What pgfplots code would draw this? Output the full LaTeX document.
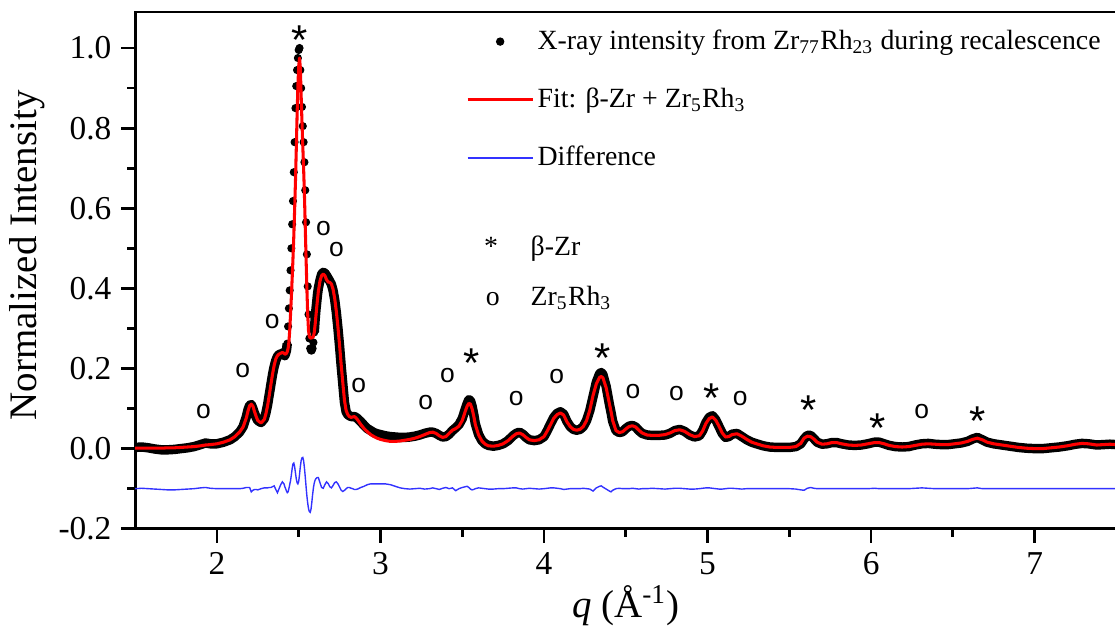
\documentclass[border=0pt]{standalone}
\usepackage{fontspec}
\setmainfont{Liberation Serif}
\setsansfont{Liberation Sans}
\usepackage{pgfplots}
\usepackage{pgfplotstable}
\pgfplotsset{compat=1.18}
\definecolor{diffblue}{RGB}{50,50,255}
\pgfplotsset{
  lineleg/.style={legend image code/.code={\draw[##1] (0pt,0pt) -- (23.4pt,0pt);}},
  dotleg/.style={legend image code/.code={\fill[##1] (11.7pt,0pt) circle[radius=1.3pt];}},
}

% q, measured intensity, fit, difference (offset by -0.1)
\pgfplotstableread{
q I fit diff
1.50 0.003 0.001 -0.100
1.54 0.004 0.001 -0.099
1.58 0.002 0.001 -0.100
1.62 -0.001 0.001 -0.101
1.66 -0.003 0.001 -0.102
1.70 -0.003 0.002 -0.103
1.74 -0.002 0.002 -0.103
1.78 0.000 0.003 -0.102
1.82 0.002 0.004 -0.101
1.86 0.005 0.005 -0.100
1.90 0.010 0.007 -0.098
1.93 0.014 0.009 -0.097
1.96 0.012 0.010 -0.099
2.00 0.012 0.012 -0.100
2.04 0.016 0.016 -0.100
2.08 0.022 0.022 -0.100
2.11 0.030 0.030 -0.100
2.14 0.042 0.042 -0.100
2.16 0.055 0.054 -0.099
2.18 0.080 0.077 -0.097
2.19 0.097 0.094 -0.097
2.20 0.108 0.107 -0.097
2.21 0.110 0.111 -0.108
2.22 0.100 0.106 -0.104
2.23 0.088 0.092 -0.102
2.24 0.078 0.080 -0.102
2.25 0.070 0.070 -0.103
2.27 0.065 0.064 -0.100
2.29 0.075 0.073 -0.098
2.300 0.090 0.088 -0.098
2.310 0.110 0.108 -0.098
2.320 0.135 0.133 -0.097
2.330 0.160 0.160 -0.097
2.340 0.185 0.186 -0.095
2.350 0.205 0.208 -0.093
2.360 0.220 0.224 -0.102
2.370 0.230 0.232 -0.110
2.380 0.235 0.236 -0.100
2.390 0.236 0.238 -0.090
2.400 0.238 0.240 -0.083
2.410 0.240 0.238 -0.088
2.415 0.232 0.236 -0.095
2.420 0.238 0.236 -0.100
2.425 0.245 0.238 -0.106
2.430 0.262 0.242 -0.110
2.435 0.305 0.250 -0.108
2.440 0.350 0.265 -0.100
2.445 0.395 0.295 -0.090
2.450 0.445 0.335 -0.080
2.455 0.500 0.378 -0.066
2.460 0.560 0.425 -0.050
2.465 0.618 0.475 -0.038
2.470 0.690 0.530 -0.036
2.475 0.765 0.595 -0.045
2.480 0.850 0.665 -0.060
2.485 0.905 0.745 -0.075
2.490 0.945 0.830 -0.085
2.495 0.975 0.905 -0.088
2.500 0.995 0.955 -0.082
2.505 1.000 0.975 -0.065
2.510 0.945 0.950 -0.045
2.515 0.900 0.880 -0.030
2.520 0.853 0.815 -0.023
2.525 0.805 0.755 -0.022
2.530 0.765 0.700 -0.030
2.535 0.715 0.635 -0.048
2.540 0.645 0.555 -0.070
2.545 0.565 0.475 -0.095
2.550 0.485 0.400 -0.118
2.555 0.405 0.335 -0.136
2.560 0.335 0.295 -0.150
2.565 0.275 0.280 -0.157
2.570 0.250 0.276 -0.159
2.575 0.245 0.276 -0.152
2.580 0.245 0.277 -0.135
2.585 0.250 0.277 -0.115
2.590 0.265 0.280 -0.098
2.595 0.290 0.290 -0.086
2.600 0.320 0.308 -0.079
2.605 0.345 0.330 -0.075
2.610 0.365 0.352 -0.073
2.615 0.385 0.373 -0.072
2.620 0.400 0.392 -0.072
2.630 0.420 0.418 -0.085
2.640 0.435 0.432 -0.097
2.650 0.440 0.436 -0.099
2.660 0.438 0.432 -0.090
2.670 0.432 0.422 -0.083
2.680 0.425 0.416 -0.087
2.690 0.418 0.415 -0.095
2.700 0.410 0.411 -0.098
2.710 0.395 0.398 -0.092
2.720 0.372 0.375 -0.085
2.730 0.340 0.343 -0.083
2.740 0.300 0.303 -0.088
2.750 0.255 0.258 -0.096
2.760 0.205 0.208 -0.104
2.770 0.160 0.163 -0.107
2.780 0.115 0.120 -0.104
2.790 0.092 0.095 -0.100
2.800 0.085 0.085 -0.097
2.810 0.082 0.080 -0.097
2.820 0.080 0.078 -0.099
2.830 0.080 0.079 -0.100
2.840 0.080 0.080 -0.102
2.850 0.078 0.077 -0.102
2.860 0.075 0.072 -0.101
2.880 0.067 0.060 -0.097
2.900 0.058 0.050 -0.094
2.920 0.050 0.042 -0.090
2.940 0.045 0.035 -0.088
2.960 0.040 0.030 -0.088
2.980 0.037 0.026 -0.088
3.000 0.035 0.023 -0.088
3.030 0.032 0.020 -0.088
3.060 0.030 0.018 -0.090
3.090 0.029 0.018 -0.094
3.120 0.028 0.019 -0.098
3.150 0.028 0.021 -0.100
3.180 0.029 0.023 -0.101
3.210 0.031 0.026 -0.100
3.240 0.034 0.030 -0.099
3.270 0.038 0.035 -0.101
3.300 0.041 0.040 -0.100
3.320 0.041 0.041 -0.098
3.340 0.038 0.038 -0.100
3.360 0.033 0.032 -0.102
3.380 0.029 0.028 -0.099
3.400 0.030 0.030 -0.097
3.420 0.036 0.038 -0.100
3.440 0.045 0.046 -0.098
3.460 0.052 0.050 -0.105
3.480 0.060 0.056 -0.100
3.500 0.075 0.070 -0.097
3.520 0.100 0.095 -0.095
3.530 0.112 0.106 -0.094
3.540 0.122 0.113 -0.097
3.550 0.120 0.111 -0.101
3.560 0.106 0.100 -0.103
3.570 0.086 0.082 -0.102
3.580 0.062 0.060 -0.100
3.600 0.035 0.034 -0.098
3.620 0.020 0.019 -0.099
3.640 0.012 0.011 -0.100
3.660 0.008 0.007 -0.101
3.690 0.006 0.006 -0.101
3.720 0.008 0.008 -0.100
3.750 0.012 0.012 -0.100
3.780 0.020 0.020 -0.099
3.810 0.032 0.031 -0.098
3.830 0.038 0.037 -0.098
3.850 0.041 0.039 -0.100
3.870 0.036 0.035 -0.101
3.890 0.028 0.028 -0.100
3.910 0.022 0.022 -0.099
3.940 0.020 0.020 -0.100
3.970 0.022 0.022 -0.101
4.000 0.030 0.030 -0.100
4.020 0.045 0.044 -0.099
4.040 0.062 0.060 -0.098
4.060 0.078 0.076 -0.098
4.080 0.088 0.085 -0.099
4.100 0.092 0.089 -0.100
4.120 0.086 0.084 -0.102
4.140 0.068 0.067 -0.101
4.160 0.055 0.055 -0.100
4.180 0.048 0.048 -0.100
4.200 0.046 0.046 -0.100
4.220 0.048 0.048 -0.100
4.240 0.055 0.055 -0.099
4.260 0.070 0.070 -0.100
4.280 0.095 0.096 -0.101
4.300 0.130 0.133 -0.106
4.320 0.166 0.162 -0.098
4.340 0.187 0.178 -0.094
4.350 0.190 0.180 -0.093
4.360 0.185 0.177 -0.096
4.380 0.155 0.152 -0.101
4.400 0.110 0.112 -0.106
4.410 0.090 0.092 -0.108
4.420 0.068 0.070 -0.104
4.440 0.045 0.045 -0.100
4.460 0.040 0.040 -0.099
4.480 0.042 0.042 -0.100
4.500 0.050 0.049 -0.100
4.520 0.056 0.055 -0.100
4.540 0.058 0.057 -0.099
4.560 0.054 0.054 -0.100
4.580 0.045 0.046 -0.101
4.600 0.038 0.039 -0.100
4.630 0.034 0.034 -0.100
4.660 0.033 0.033 -0.099
4.700 0.033 0.033 -0.100
4.740 0.034 0.035 -0.101
4.770 0.038 0.039 -0.100
4.800 0.045 0.045 -0.099
4.830 0.048 0.047 -0.099
4.860 0.043 0.043 -0.100
4.890 0.034 0.035 -0.101
4.920 0.029 0.030 -0.101
4.950 0.032 0.032 -0.100
4.970 0.045 0.044 -0.099
4.990 0.065 0.063 -0.098
5.010 0.078 0.075 -0.098
5.030 0.082 0.079 -0.099
5.050 0.072 0.071 -0.100
5.070 0.055 0.056 -0.101
5.090 0.038 0.039 -0.101
5.110 0.028 0.029 -0.100
5.130 0.030 0.030 -0.099
5.150 0.036 0.035 -0.099
5.180 0.038 0.037 -0.100
5.210 0.030 0.031 -0.101
5.240 0.022 0.023 -0.100
5.270 0.016 0.016 -0.100
5.300 0.012 0.012 -0.100
5.340 0.007 0.007 -0.100
5.380 0.004 0.004 -0.100
5.420 0.003 0.003 -0.100
5.460 0.003 0.003 -0.100
5.500 0.003 0.003 -0.100
5.540 0.005 0.005 -0.101
5.570 0.012 0.013 -0.103
5.590 0.024 0.026 -0.104
5.610 0.033 0.031 -0.099
5.630 0.033 0.030 -0.097
5.650 0.025 0.024 -0.099
5.670 0.016 0.016 -0.100
5.700 0.011 0.011 -0.100
5.730 0.012 0.012 -0.100
5.760 0.015 0.015 -0.100
5.790 0.015 0.015 -0.100
5.820 0.012 0.012 -0.100
5.860 0.009 0.009 -0.100
5.900 0.008 0.008 -0.100
5.940 0.009 0.009 -0.100
5.980 0.012 0.012 -0.100
6.020 0.016 0.015 -0.099
6.050 0.016 0.015 -0.100
6.080 0.012 0.012 -0.100
6.110 0.008 0.008 -0.100
6.150 0.005 0.005 -0.100
6.190 0.004 0.004 -0.100
6.230 0.005 0.005 -0.100
6.270 0.009 0.008 -0.099
6.310 0.012 0.011 -0.098
6.350 0.013 0.012 -0.099
6.390 0.011 0.011 -0.100
6.430 0.010 0.010 -0.100
6.470 0.010 0.010 -0.100
6.510 0.012 0.012 -0.100
6.550 0.014 0.014 -0.100
6.590 0.018 0.018 -0.100
6.620 0.024 0.023 -0.099
6.650 0.028 0.026 -0.098
6.680 0.022 0.022 -0.100
6.710 0.016 0.016 -0.100
6.750 0.012 0.012 -0.100
6.800 0.009 0.009 -0.100
6.850 0.006 0.006 -0.100
6.900 0.003 0.003 -0.100
6.950 0.001 0.001 -0.100
7.000 0.000 0.000 -0.100
7.050 0.000 0.000 -0.100
7.100 0.002 0.002 -0.100
7.150 0.004 0.004 -0.100
7.200 0.007 0.007 -0.100
7.250 0.011 0.011 -0.100
7.290 0.013 0.013 -0.100
7.330 0.012 0.012 -0.100
7.380 0.009 0.009 -0.100
7.420 0.010 0.010 -0.100
7.460 0.011 0.011 -0.100
7.500 0.010 0.010 -0.100
}\xrd

% peak markers: * beta-Zr, o Zr5Rh3
\newcommand{\bz}[2]{\node[font=\sffamily\fontsize{15}{16}\selectfont, inner sep=0pt, yshift=-3.2pt] at (axis cs:#1,#2) {*};}
\newcommand{\zr}[2]{\node[font=\sffamily\fontsize{9.5}{11}\selectfont, inner sep=0pt] at (axis cs:#1,#2) {o};}

\begin{document}
\begin{tikzpicture}
\begin{axis}[
    width=352.8pt, height=185.8pt, scale only axis,
    xmin=1.5, xmax=7.5, ymin=-0.2, ymax=1.09,
    clip marker paths=true,
    axis line style={line width=1pt},
    tick style={black, line width=1pt},
    tick align=outside, xtick pos=left, ytick pos=left,
    major tick length=5pt, minor tick length=2.9pt,
    xtick={2,3,4,5,6,7}, xticklabels={2,3,4,5,6,7},
    minor xtick={2.5,3.5,4.5,5.5,6.5},
    ytick={-0.2,0,0.2,0.4,0.6,0.8,1.0},
    yticklabels={-0.2,0.0,0.2,0.4,0.6,0.8,1.0},
    minor ytick={-0.1,0.1,0.3,0.5,0.7,0.9},
    tick label style={font=\fontsize{12}{14}\selectfont},
    xlabel={\textit{q} (Å\textsuperscript{-1})},
    ylabel={Normalized Intensity},
    label style={font=\fontsize{14}{16}\selectfont},
    xlabel style={at={(axis description cs:0.5,-0.149)}, anchor=center},
    ylabel style={at={(axis description cs:-0.110,0.529)}, anchor=center},
    legend cell align=left,
    legend style={draw=none, fill=none, inner sep=0pt, at={(0.3367,0.972)}, anchor=north west,
        row sep=10.4pt, column sep=1.2pt, font=\fontsize{10}{12}\selectfont,
        nodes={inner sep=0pt, text height=8pt, text depth=2.5pt}},
]
\addplot[black, line width=3.4pt, line join=round, forget plot, restrict x to domain=1.5:2.43] table[x=q,y=I]{\xrd};
\addplot[black, line width=3.4pt, line join=round, forget plot, restrict x to domain=2.595:7.5] table[x=q,y=I]{\xrd};
\addplot[only marks, mark=*, mark size=1.25pt, black, forget plot] table[x=q,y=I]{\xrd};
\addplot[red, line width=1.1pt, line join=round, forget plot] table[x=q,y=fit]{\xrd};
\addplot[diffblue, line width=0.5pt, forget plot] table[x=q,y=diff]{\xrd};

\addlegendimage{black, dotleg}
\addlegendentry{X-ray intensity from Zr\textsubscript{77}Rh\textsubscript{23} during recalescence}
\addlegendimage{red, line width=1.1pt, lineleg}
\addlegendentry{Fit: β-Zr + Zr\textsubscript{5}Rh\textsubscript{3}}
\addlegendimage{diffblue, line width=0.5pt, lineleg}
\addlegendentry{Difference}
\addlegendimage{empty legend}
\addlegendentry[text height=0pt, text depth=0pt]{}
\addlegendimage{empty legend}
\addlegendentry{\llap{*\hspace{14.2pt}}\hspace*{-2.5pt}β-Zr}
\addlegendimage{empty legend}
\addlegendentry[text height=5pt]{\llap{o\hspace{13.6pt}}\hspace*{-2.5pt}Zr\textsubscript{5}Rh\textsubscript{3}}

\bz{2.505}{1.042}
\bz{3.557}{0.235}
\bz{4.36}{0.247}
\bz{5.027}{0.148}
\bz{5.615}{0.117}
\bz{6.04}{0.074}
\bz{6.65}{0.09}
\zr{1.917}{0.092}
\zr{2.157}{0.195}
\zr{2.338}{0.318}
\zr{2.651}{0.55}
\zr{2.731}{0.497}
\zr{2.867}{0.158}
\zr{3.276}{0.115}
\zr{3.41}{0.182}
\zr{3.83}{0.125}
\zr{4.078}{0.18}
\zr{4.544}{0.143}
\zr{4.81}{0.137}
\zr{5.20}{0.125}
\zr{6.31}{0.093}
\end{axis}
\pgfresetboundingbox
\useasboundingbox (-48.6pt,-36pt) rectangle (352.3pt,190.1pt);
\end{tikzpicture}
\end{document}
